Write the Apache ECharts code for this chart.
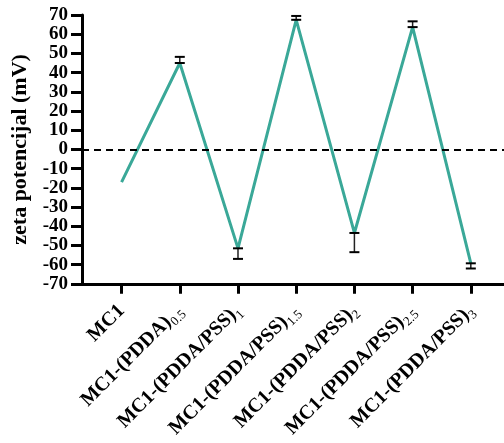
<!DOCTYPE html>
<html>
<head>
<meta charset="utf-8">
<script src="https://cdn.jsdelivr.net/npm/echarts@6/dist/echarts.min.js"></script>
<style>html,body{margin:0;padding:0;background:#fff}#c{width:504px;height:443px}</style>
</head>
<body>
<div id="c"></div>
<script>
const categories = ['MC1', 'MC1-(PDDA)', 'MC1-(PDDA/PSS)', 'MC1-(PDDA/PSS)', 'MC1-(PDDA/PSS)', 'MC1-(PDDA/PSS)', 'MC1-(PDDA/PSS)'];
const subscripts = ['', '0.5', '1', '1.5', '2', '2.5', '3'];
const zetaValues = [-17, 45, -51.5, 67.5, -43.5, 63.7, -59.3];
const zetaErrors = [0, 3.2, 5.5, 2, 10, 3, 2.7];
const yMin = -70, yMax = 70, yStep = 10;
const categoryIndex = categories.map((c, i) => i);

const fontFamily = '"Liberation Serif", "Times New Roman", serif';
const chart = echarts.init(document.getElementById('c'), null, {renderer: 'canvas'});

const lineData = zetaValues.map((v, i) => [i, v]);
const errData = zetaValues.map((v, i) => [i, v, zetaErrors[i]]);

chart.setOption({
  animation: false,
  grid: {left: 82, right: 0, top: 15, bottom: 159},
  xAxis: {
    type: 'value',
    min: -0.68,
    max: 6.57,
    splitLine: {show: false},
    axisLine: {show: true, onZero: false, lineStyle: {color: '#000', width: 3}},
    axisTick: {show: true, customValues: categoryIndex, length: 10, lineStyle: {color: '#000', width: 3}},
    axisLabel: {
      show: true,
      customValues: categoryIndex,
      rotate: 45,
      margin: 24,
      formatter: function (val) {
        const i = Math.round(val);
        const s = subscripts[i];
        return '{b|' + categories[i] + '}' + (s ? '{s|' + s + '}' : '');
      },
      rich: {
        b: {fontFamily: fontFamily, fontWeight: 'bold', fontSize: 20, color: '#000', lineHeight: 26, verticalAlign: 'middle'},
        s: {fontFamily: fontFamily, fontWeight: 'normal', fontSize: 13, color: '#000', lineHeight: 26, verticalAlign: 'bottom'}
      }
    }
  },
  yAxis: {
    type: 'value',
    min: yMin,
    max: yMax,
    interval: yStep,
    name: 'zeta potencijal (mV)',
    nameLocation: 'middle',
    nameGap: 47,
    nameRotate: 90,
    nameTextStyle: {fontFamily: fontFamily, fontWeight: 'bold', fontSize: 22, color: '#000'},
    splitLine: {show: false},
    axisLine: {show: true, onZero: false, lineStyle: {color: '#000', width: 3}},
    axisTick: {show: true, length: 11, lineStyle: {color: '#000', width: 3}},
    axisLabel: {margin: 14, fontFamily: fontFamily, fontWeight: 'bold', fontSize: 19, color: '#000'}
  },
  series: [
    {
      type: 'line',
      data: lineData,
      symbol: 'none',
      lineStyle: {color: '#3aa898', width: 3},
      z: 3,
      markLine: {
        silent: true,
        symbol: 'none',
        label: {show: false},
        lineStyle: {color: '#000', type: [7, 5], width: 2},
        data: [{yAxis: 0}]
      }
    },
    {
      type: 'custom',
      data: errData,
      z: 4,
      renderItem: function (params, api) {
        const x = api.value(0), v = api.value(1), e = api.value(2);
        if (!e) return null;
        const end = v + (v >= 0 ? e : -e);
        const p0 = api.coord([x, v]);
        const p1 = api.coord([x, end]);
        const hw = 5;
        return {
          type: 'group',
          children: [
            {type: 'line', shape: {x1: p0[0], y1: p0[1], x2: p1[0], y2: p1[1]}, style: {stroke: '#222', lineWidth: 1.5}},
            {type: 'line', shape: {x1: p0[0] - hw, y1: p0[1], x2: p0[0] + hw, y2: p0[1]}, style: {stroke: '#000', lineWidth: 2}},
            {type: 'line', shape: {x1: p1[0] - hw, y1: p1[1], x2: p1[0] + hw, y2: p1[1]}, style: {stroke: '#000', lineWidth: 2}}
          ]
        };
      }
    }
  ]
});
</script>
</body>
</html>
